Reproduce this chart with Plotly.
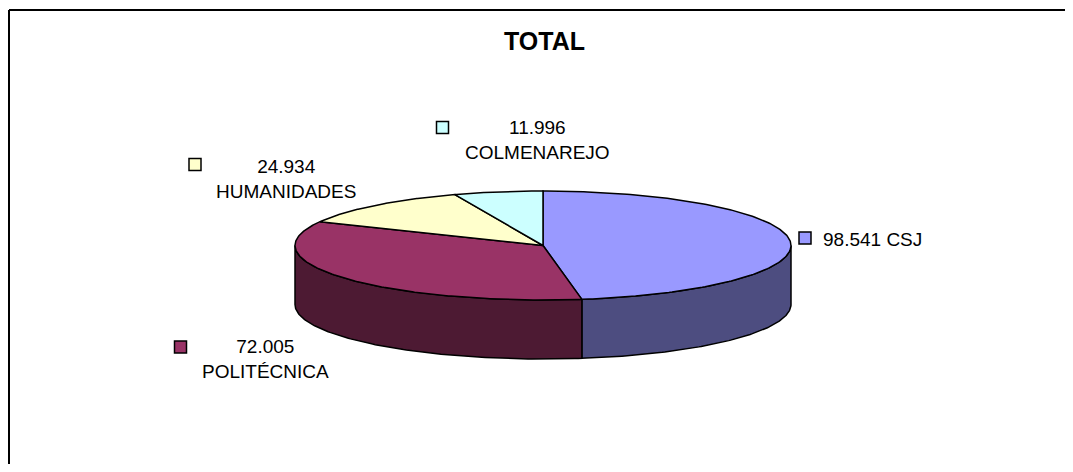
import numpy as np
import plotly.graph_objects as go

# ---- data ----
categories = ["CSJ", "POLITÉCNICA", "HUMANIDADES", "COLMENAREJO"]
values = [98541, 72005, 24934, 11996]
top_colors = ["#9999FF", "#993366", "#FFFFCC", "#CCFFFF"]
side_colors = ["#4D4D80", "#4D1A33", "#80806A", "#6A8080"]
title_text = "TOTAL"

# ---- page geometry: the page body has an 8px margin, so axes are in window pixels ----
WIN_W, WIN_H = 1073, 472
OFF = 8
W, H = WIN_W - OFF, WIN_H - 2 * OFF
cx, cy = 543, 245.5
a, b = 248, 54.5
depth = 59

def ex(t):
    return cx + a * np.sin(np.radians(t))

def ey(t, off=0.0):
    return cy - b * np.cos(np.radians(t)) + off

def fmt(v):
    return f"{v:,}".replace(",", ".")

total = sum(values)
angles = np.concatenate([[0], np.cumsum(values) / total * 360.0])

fig = go.Figure()
edge = dict(color="black", width=1.5)

# sides (front half only: 90..270 deg)
for i in range(len(values)):
    s1, s2 = max(angles[i], 90), min(angles[i + 1], 270)
    if s2 <= s1:
        continue
    t = np.linspace(s1, s2, 120)
    xs = np.concatenate([ex(t), ex(t[::-1]), [ex(t[0])]])
    ys = np.concatenate([ey(t), ey(t[::-1], depth), [ey(t[0])]])
    fig.add_trace(go.Scatter(x=xs, y=ys, mode="lines", fill="toself",
                             fillcolor=side_colors[i], line=edge,
                             hoverinfo="skip", showlegend=False))

# top faces
for i in range(len(values)):
    t = np.linspace(angles[i], angles[i + 1], 200)
    xs = np.concatenate([[cx], ex(t), [cx]])
    ys = np.concatenate([[cy], ey(t), [cy]])
    fig.add_trace(go.Scatter(x=xs, y=ys, mode="lines", fill="toself",
                             fillcolor=top_colors[i], line=edge,
                             name=categories[i], hoverinfo="name",
                             showlegend=False))

# label layout: (text x, text y, anchor, square x, square y, two-line)
label_pos = {
    "CSJ": (821, 239, "left", 805, 238, False),
    "POLITÉCNICA": (265, 359, "center", 180.5, 347, True),
    "HUMANIDADES": (285.5, 179, "center", 195, 164.5, True),
    "COLMENAREJO": (537, 139.5, "center", 442.5, 127.5, True),
}
font = dict(family="Liberation Sans, Arial, sans-serif", size=19, color="black")
for i, c in enumerate(categories):
    tx, ty, anc, sx, sy, two = label_pos[c]
    txt = f"{fmt(values[i])}<br>{c}" if two else f"{fmt(values[i])} {c}"
    fig.add_annotation(x=tx, y=ty, xref="x", yref="y", text=txt, showarrow=False,
                       xanchor=anc, yanchor="middle", align="center", font=font)
    fig.add_trace(go.Scatter(x=[sx], y=[sy], mode="markers",
                             marker=dict(symbol="square", size=12, color=top_colors[i],
                                         line=dict(color="black", width=1.5)),
                             hoverinfo="skip", showlegend=False))

fig.add_annotation(x=544, y=41, xref="x", yref="y", text=f"<b>{title_text}</b>",
                   showarrow=False, font=dict(family="Liberation Sans, Arial, sans-serif",
                                              size=25, color="black"))

# frame (top and left edges visible)
fig.add_shape(type="line", xref="x", yref="y", x0=9, y0=10, x1=WIN_W + 5, y1=10,
              line=dict(color="black", width=2))
fig.add_shape(type="line", xref="x", yref="y", x0=9, y0=10, x1=9, y1=WIN_H + 5,
              line=dict(color="black", width=2))

fig.update_layout(
    width=W, height=H, margin=dict(l=0, r=0, t=0, b=0),
    paper_bgcolor="white", plot_bgcolor="white",
    xaxis=dict(range=[OFF, OFF + W], visible=False, fixedrange=True),
    yaxis=dict(range=[OFF + H, OFF], visible=False, fixedrange=True),
    showlegend=False,
)
fig.write_html("out.html")
